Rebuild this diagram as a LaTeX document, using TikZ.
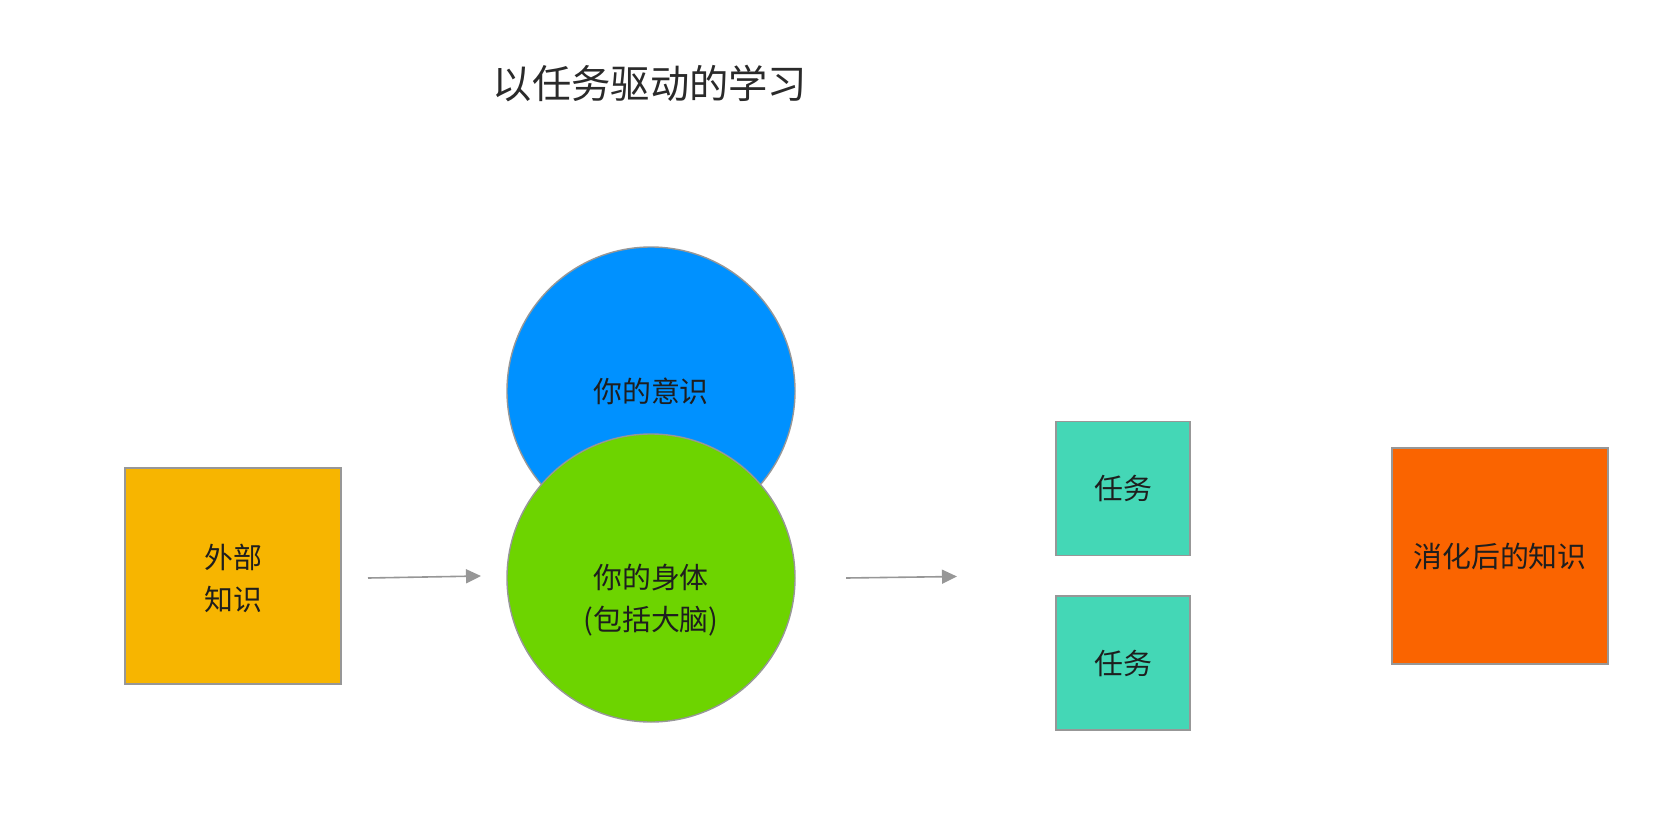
\documentclass[tikz,border=0pt]{standalone}
\usepackage{fontspec}
\setmainfont{Noto Sans CJK SC}
\usetikzlibrary{arrows.meta}
\definecolor{cyellow}{HTML}{F7B500}
\definecolor{cblue}{HTML}{0091FF}
\definecolor{cgreen}{HTML}{6DD400}
\definecolor{cteal}{HTML}{44D7B6}
\definecolor{corange}{HTML}{FA6400}
\definecolor{cborder}{HTML}{979797}
\definecolor{ctext}{HTML}{1E1E1E}
\definecolor{ctitle}{HTML}{2A2A2A}
\tikzset{
  lbl/.style={text=ctext, font=\fontsize{28.9}{42}\selectfont, align=center},
  sqbox/.style={draw=cborder, line width=1.6pt, inner sep=0pt, lbl},
  circ/.style={circle, draw=cborder, line width=1.4pt, minimum size=288pt, inner sep=0pt},
  conn/.style={draw=cborder, line width=1.6pt, -{Triangle[length=15pt,width=14pt]}}
}
\begin{document}
\begin{tikzpicture}[x=1pt,y=-1pt]
\useasboundingbox (0,0) rectangle (1656,816);
\node[text=ctitle, font=\fontsize{39.3}{44}\selectfont] (title) at (650,84) {以任务驱动的学习};
\node[sqbox, fill=cyellow, minimum width=216pt, minimum height=216pt] (ext) at (233,576) {};
\node[lbl] (extl) at (233,578) {外部\\知识};
\node[circ, fill=cblue] (mind) at (651,391) {};
\node[lbl] (mindl) at (651,391) {你的意识};
\node[circ, fill=cgreen] (body) at (651,578) {};
\node[lbl] (bodyl) at (651,600) {你的身体\\(包括大脑)};
\node[sqbox, fill=cteal, minimum width=134pt, minimum height=134pt] (task1) at (1123,488.5) {任务};
\node[sqbox, fill=cteal, minimum width=134pt, minimum height=134pt] (task2) at (1123,663) {任务};
\node[sqbox, fill=corange, minimum width=216pt, minimum height=216pt] (done) at (1500,556) {消化后的知识};
\coordinate (a1s) at (368,578);
\coordinate (a1e) at (481,576);
\coordinate (a2s) at (846,578);
\coordinate (a2e) at (957,576.5);
\draw[conn] (a1s) -- (a1e);
\draw[conn] (a2s) -- (a2e);
\end{tikzpicture}
\end{document}
